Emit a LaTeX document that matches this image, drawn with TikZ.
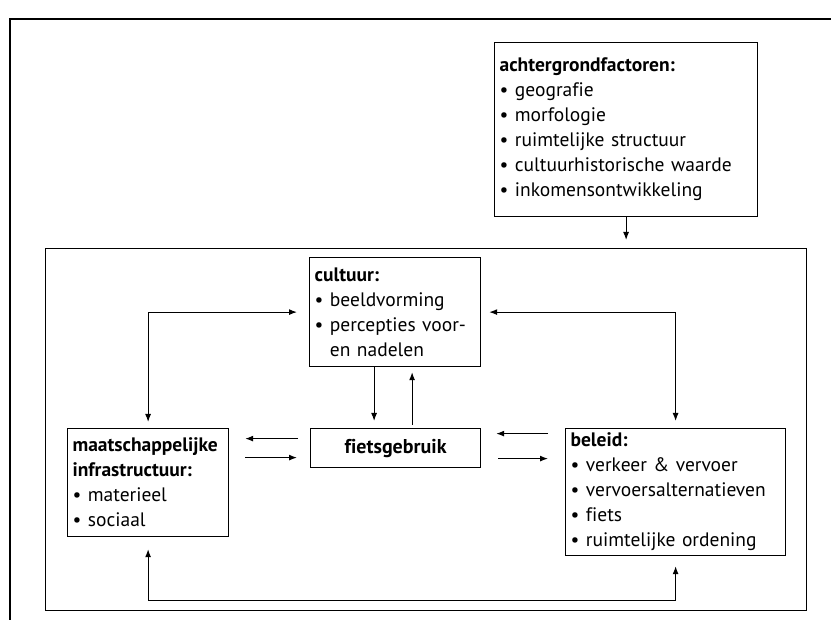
\documentclass[tikz,border=0pt]{standalone}
\usepackage{fontspec}
\setmainfont{PT Sans}[Ligatures=NoCommon]
\usepackage{tikz}
\usetikzlibrary{arrows.meta,positioning,calc}

\newcommand{\opsom}{\textbullet\ }
\tikzstyle{kader} = [rectangle, draw, line width=1.2pt, anchor=north west, align=left,
    inner xsep=5pt, inner ysep=0pt, font=\fontsize{19.5}{25}\selectfont]
\tikzstyle{kern} = [rectangle, draw, line width=1.2pt, anchor=north west, align=center,
    inner sep=0pt, font=\fontsize{20}{24}\selectfont\bfseries]
\tikzstyle{arrow} = [-{Latex[length=8pt,width=6pt]}, line width=1.1pt]
\tikzstyle{dblarrow} = [{Latex[length=8pt,width=6pt]}-{Latex[length=8pt,width=6pt]}, line width=1.1pt]

\begin{document}
\begin{tikzpicture}[x=1pt,y=-1pt]
\useasboundingbox (0,0) rectangle (831,620);
% open frame: top and left edge only
\draw[line width=1.3pt] (831,19) -- (10,19) -- (10,620);

\node[kader, text width=253pt, minimum height=174pt] (achtergrond) at (494,42)
    {\textbf{achtergrondfactoren:}\\ \opsom geografie\\ \opsom morfologie\\
     \opsom ruimtelijke structuur\\ \opsom cultuurhistorische waarde\\ \opsom inkomensontwikkeling};

% inner system
\node[draw, line width=1.3pt, anchor=north west, inner sep=0pt,
    minimum width=761pt, minimum height=362pt] (stelsel) at (45,248) {};

\node[kader, text width=161pt, minimum height=109pt] (cultuur) at (309,257)
    {\textbf{cultuur:}\\ \opsom beeldvorming\\ \opsom percepties voor-\\ \phantom{\opsom}en nadelen};
\node[kern, minimum width=170pt, minimum height=39pt] (fiets) at (310,428) {fietsgebruik};
\node[kader, text width=151pt, minimum height=108pt] (maats) at (67,428)
    {\textbf{maatschappelijke}\\ \textbf{infrastructuur:}\\ \opsom materieel\\ \opsom sociaal};
\node[kader, text width=210pt, minimum height=127pt] (beleid) at (565,428)
    {\textbf{beleid:}\\ \opsom verkeer \& vervoer\\ \opsom vervoersalternatieven\\
     \opsom fiets\\ \opsom ruimtelijke ordening};

\draw[arrow, shorten >=8pt] (achtergrond.south) -- (achtergrond.south |- stelsel.north);

% cultuur <-> side boxes
\draw[dblarrow, shorten <=12pt, shorten >=6pt] (cultuur.west) -| (maats.north);
\draw[dblarrow, shorten <=8pt, shorten >=7pt] (cultuur.east) -| (beleid.north);
\draw[dblarrow, shorten <=12pt, shorten >=10pt] (maats.south) -- ++(0,63) -| (beleid.south);

% cultuur <-> fietsgebruik
\coordinate (cOmlaag) at ([xshift=-21pt]cultuur.south);
\coordinate (cOmhoog) at ([xshift=17pt]cultuur.south);
\draw[arrow, shorten >=7pt] (cOmlaag) -- (cOmlaag |- fiets.north);
\draw[arrow, shorten <=3pt, shorten >=5pt] (cOmhoog |- fiets.north) -- (cOmhoog);

% fietsgebruik <-> maatschappelijke infrastructuur
\coordinate (fwBoven) at ([yshift=9.5pt]fiets.west);
\coordinate (fwOnder) at ([yshift=-9.5pt]fiets.west);
\draw[arrow, shorten <=12pt, shorten >=16pt] (fwBoven) -- (fwBoven -| maats.east);
\draw[arrow, shorten <=16pt, shorten >=13pt] (fwOnder -| maats.east) -- (fwOnder);

% fietsgebruik <-> beleid
\coordinate (feBoven) at ([yshift=14.5pt]fiets.east);
\coordinate (feOnder) at ([yshift=-10.5pt]fiets.east);
\draw[arrow, shorten <=17pt, shorten >=15pt] (feBoven -| beleid.west) -- (feBoven);
\draw[arrow, shorten <=17pt, shorten >=17pt] (feOnder) -- (feOnder -| beleid.west);
\end{tikzpicture}
\end{document}
